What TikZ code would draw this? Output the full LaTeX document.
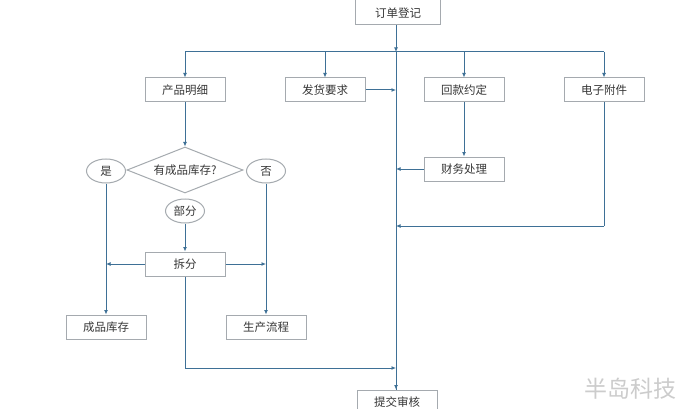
\documentclass[tikz,border=0pt]{standalone}
\usepackage{fontspec}
\setmainfont{Noto Sans CJK SC}
\usetikzlibrary{shapes.geometric,arrows.meta}
\definecolor{lineblue}{RGB}{62,112,150}
\definecolor{boxgray}{RGB}{165,170,175}
\definecolor{txt}{RGB}{55,55,55}
\tikzset{
  x=1pt,y=-1pt,
  lbl/.style={font=\fontsize{11.5}{13}\selectfont,text=txt},
  box/.style={draw=boxgray,line width=1pt,fill=white,minimum width=80pt,minimum height=24pt,inner sep=0pt,lbl},
  oval/.style={draw=boxgray,line width=1pt,ellipse,minimum width=39pt,minimum height=24pt,inner sep=0pt,lbl},
  dia/.style={draw=boxgray,line width=1pt,diamond,aspect=2.5,minimum width=116pt,minimum height=46pt,inner sep=0pt,lbl},
  conn/.style={draw=lineblue,line width=1pt},
  arr/.style={conn,-{Latex[length=4.5pt,width=4pt]}}
}
\begin{document}
\begin{tikzpicture}
\useasboundingbox (0,0) rectangle (685,409);
\clip (0,0) rectangle (685,409);
\fill[white] (0,0) rectangle (685,409);
% nodes
\node[box,minimum width=85pt,minimum height=32pt] (order) at (398,9) {};
\node[lbl] (ordertxt) at (398,13) {订单登记};
\node[box] (cpmx) at (185,90) {产品明细};
\node[box] (fhyq) at (325,90) {发货要求};
\node[box] (hkyd) at (464,90) {回款约定};
\node[box] (dzfj) at (604,90) {电子附件};
\node[box] (cwcl) at (464,169) {财务处理};
\node[dia] (stock) at (185,170) {有成品库存?};
\node[oval] (yes) at (106,171) {是};
\node[oval] (no) at (266,171) {否};
\node[oval] (part) at (185,211) {部分};
\node[box] (chaifen) at (185,264) {拆分};
\node[box] (cpkc) at (106,327) {成品库存};
\node[box] (sclc) at (266,327) {生产流程};
\node[box] (tjsh) at (397,402) {提交审核};
% coordinates
\coordinate (j1) at (396,52);
\coordinate (hl) at (185,52);
\coordinate (hr) at (604,52);
\coordinate (j2) at (396,90);
\coordinate (j3) at (396,169);
\coordinate (j4) at (396,226);
\coordinate (j5) at (396,368);
\coordinate (dc) at (604,226);
\coordinate (cc) at (185,368);
\coordinate (lc) at (106,264);
\coordinate (rc) at (266,264);
% connectors
\draw[conn] (hl) -- (hr);
\draw[arr] (order.south -| j1) -- (j1);
\draw[conn] (j1) -- (tjsh.north -| j1);
\draw[arr] (j5) -- (tjsh.north -| j5);
\draw[arr] (hl) -- (cpmx.north);
\draw[arr] (fhyq.north |- j1) -- (fhyq.north);
\draw[arr] (hkyd.north |- j1) -- (hkyd.north);
\draw[arr] (hr) -- (dzfj.north);
\draw[arr] (fhyq.east) -- (j2);
\draw[arr] (hkyd.south) -- (cwcl.north);
\draw[arr] (cwcl.west) -- (j3);
\draw[conn] (dzfj.south) -- (dc);
\draw[arr] (dc) -- (j4);
\draw[arr] (cpmx.south) -- (stock.north);
\draw[arr] (yes.south) -- (cpkc.north);
\draw[arr] (no.south) -- (sclc.north);
\draw[arr] (part.south) -- (chaifen.north);
\draw[arr] (chaifen.west) -- (lc);
\draw[arr] (chaifen.east) -- (rc);
\draw[conn] (chaifen.south) -- (cc);
\draw[arr] (cc) -- (j5);
% watermark
\node[text=black!20,font=\fontsize{23}{25}\selectfont] (wm) at (630,389) {半岛科技};
\end{tikzpicture}
\end{document}
